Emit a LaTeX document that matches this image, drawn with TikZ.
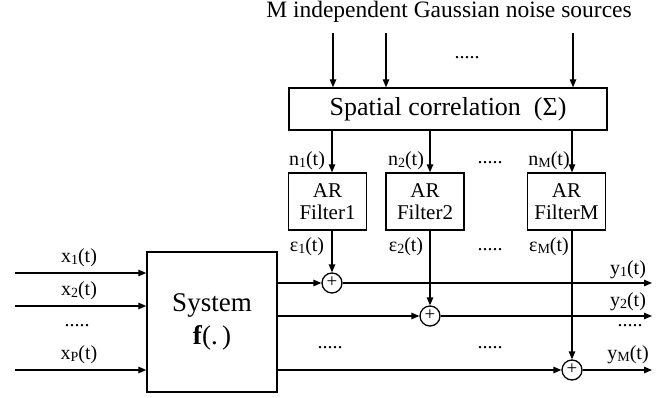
\documentclass[tikz,border=0pt]{standalone}
\usepackage{fontspec}
\setmainfont{Liberation Serif}
\usetikzlibrary{arrows.meta}
\newcommand{\mysub}[1]{\raisebox{-1.5pt}{\fontsize{14}{14}\selectfont #1}}
\begin{document}
\begin{tikzpicture}[x=1pt,y=-1pt,
  blk/.style={draw, line width=1.4pt, inner sep=0pt},
  arr/.style={-{Triangle[length=8pt,width=6.5pt]}, line width=1.3pt},
  sumnode/.style={circle, draw, line width=1.3pt, minimum size=20pt, inner sep=0pt, font=\fontsize{19}{19}\selectfont},
  lbl/.style={font=\fontsize{20}{20}\selectfont, inner sep=0pt},
  big/.style={font=\fontsize{23.5}{23.5}\selectfont},
  filt/.style={blk, minimum width=78pt, minimum height=57pt, align=center, font=\fontsize{21}{22}\selectfont}
]
\useasboundingbox (0,0) rectangle (663,398);

\node[big, inner sep=0pt] (title) at (449,12) {M independent Gaussian noise sources};

\node[blk, minimum width=318pt, minimum height=42pt, font=\fontsize{26}{26}\selectfont] (sc) at (448,109) {Spatial correlation\ \ (Σ)};

\coordinate (s1) at (333,33);
\coordinate (s2) at (386,33);
\coordinate (sM) at (573,33);
\draw[arr] (s1) -- (s1 |- sc.north);
\draw[arr] (s2) -- (s2 |- sc.north);
\draw[arr] (sM) -- (sM |- sc.north);
\node[lbl] (d0) at (467,58) {.....};

\node[filt] (f1) at (327.5,201.5) {AR\\Filter1};
\node[filt] (f2) at (425,201.5) {AR\\Filter2};
\node[filt] (fM) at (566.5,201.5) {AR\\FilterM};

\node[blk, minimum width=130pt, minimum height=140pt, align=center, font=\fontsize{27}{33}\selectfont] (sys) at (212,322) {System\\\textbf{f}(.\,)};

\node[sumnode] (a1) at (332,283) {\raisebox{1pt}{+}};
\node[sumnode] (a2) at (430,316) {\raisebox{1pt}{+}};
\node[sumnode] (aM) at (572,370) {\raisebox{1pt}{+}};

% noise to filters
\draw[arr] (sc.south -| a1) -- (a1 |- f1.north);
\draw[arr] (sc.south -| a2) -- (a2 |- f2.north);
\draw[arr] (sc.south -| aM) -- (aM |- fM.north);
\node[lbl] (n1) at (307,161) {n\mysub{1}(t)};
\node[lbl] (n2) at (406,161) {n\mysub{2}(t)};
\node[lbl] (nd) at (490,163) {.....};
\node[lbl] (nM) at (549,161) {n\mysub{M}(t)};

% filters to adders
\draw[arr] (a1 |- f1.south) -- (a1.north);
\draw[arr] (a2 |- f2.south) -- (a2.north);
\draw[arr] (aM |- fM.south) -- (aM.north);
\node[lbl] (e1) at (307,247) {ε\mysub{1}(t)};
\node[lbl] (e2) at (406,247) {ε\mysub{2}(t)};
\node[lbl] (ed) at (490,250) {.....};
\node[lbl] (eM) at (549,247) {ε\mysub{M}(t)};

% inputs
\coordinate (i1) at (15,273);
\coordinate (i2) at (15,306);
\coordinate (iP) at (15,370);
\draw[arr] (i1) -- (i1 -| sys.west);
\draw[arr] (i2) -- (i2 -| sys.west);
\draw[arr] (iP) -- (iP -| sys.west);
\node[lbl] (x1) at (79,258) {x\mysub{1}(t)};
\node[lbl] (x2) at (79,291) {x\mysub{2}(t)};
\node[lbl] (xd) at (77,326) {.....};
\node[lbl] (xP) at (79,355) {x\mysub{P}(t)};

% system to adders
\draw[arr] (a1 -| sys.east) -- (a1.west);
\draw[arr] (a2 -| sys.east) -- (a2.west);
\draw[arr] (aM -| sys.east) -- (aM.west);
\node[lbl] (md1) at (330,348) {.....};
\node[lbl] (md2) at (490,348) {.....};

% outputs
\coordinate (o1) at (652,283);
\coordinate (o2) at (652,316);
\coordinate (oM) at (652,370);
\draw[arr] (a1.east) -- (o1);
\draw[arr] (a2.east) -- (o2);
\draw[arr] (aM.east) -- (oM);
\node[lbl] (y1) at (628,270) {y\mysub{1}(t)};
\node[lbl] (y2) at (628,302) {y\mysub{2}(t)};
\node[lbl] (yd) at (630,326) {.....};
\node[lbl] (yM) at (628,355) {y\mysub{M}(t)};
\end{tikzpicture}
\end{document}
